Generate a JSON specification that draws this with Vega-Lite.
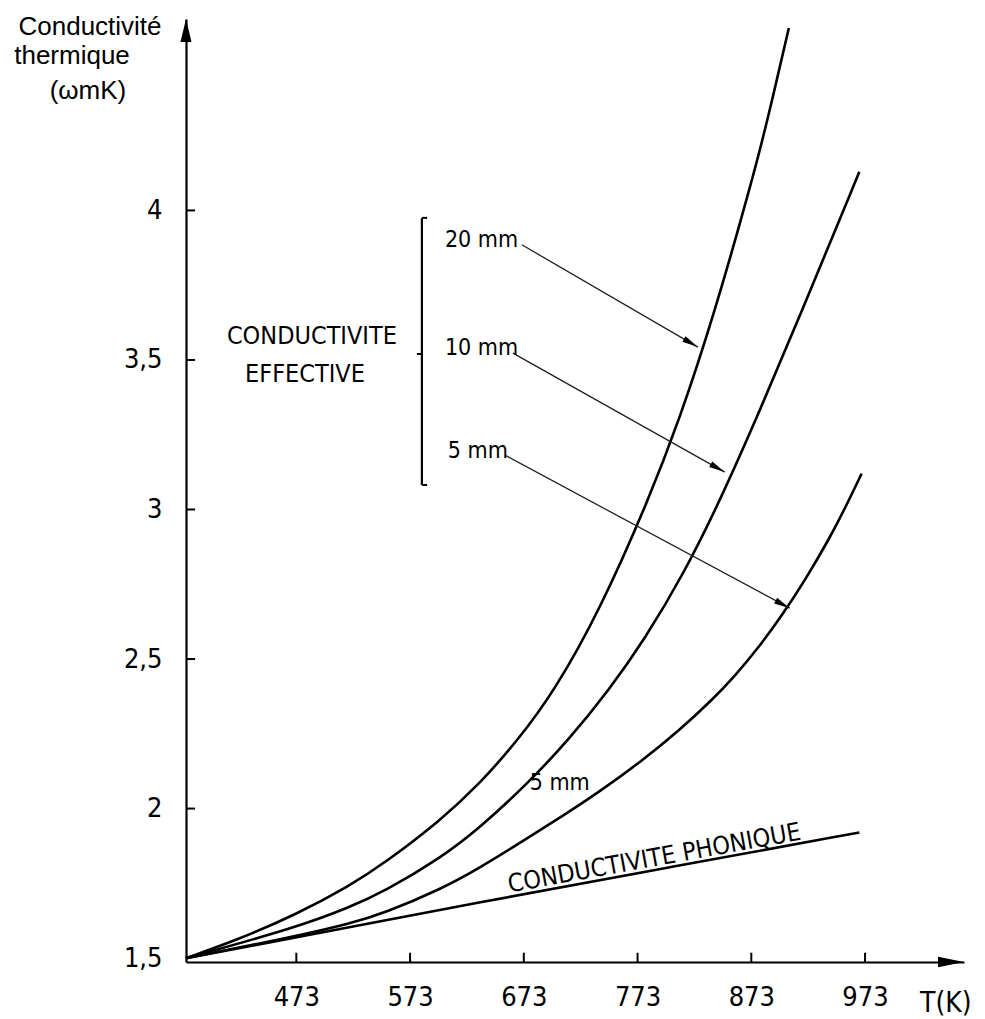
{
  "$schema": "https://vega.github.io/schema/vega-lite/v6.json",
  "width": 778,
  "height": 943,
  "autosize": {"type": "none"},
  "padding": {"left": 186, "top": 19, "right": 21, "bottom": 57},
  "background": "white",
  "data": {"values": [{}]},
  "config": {
    "view": {"stroke": null},
    "font": "Liberation Sans Narrow, DejaVu Sans Condensed, Liberation Sans, sans-serif",
    "text": {"color": "black", "font": "Liberation Sans Narrow, DejaVu Sans Condensed, Liberation Sans, sans-serif"}
  },
  "datasets": {
    "curves": [
      {"serie": "phonique", "T": 376, "k": 1.5},
      {"serie": "phonique", "T": 473, "k": 1.569},
      {"serie": "phonique", "T": 634, "k": 1.687},
      {"serie": "phonique", "T": 800, "k": 1.803},
      {"serie": "phonique", "T": 968, "k": 1.92},
      {"serie": "5 mm", "T": 376, "k": 1.5},
      {"serie": "5 mm", "T": 473, "k": 1.573},
      {"serie": "5 mm", "T": 520, "k": 1.615},
      {"serie": "5 mm", "T": 550, "k": 1.65},
      {"serie": "5 mm", "T": 600, "k": 1.73},
      {"serie": "5 mm", "T": 634, "k": 1.801},
      {"serie": "5 mm", "T": 670, "k": 1.886},
      {"serie": "5 mm", "T": 707, "k": 1.975},
      {"serie": "5 mm", "T": 740, "k": 2.058},
      {"serie": "5 mm", "T": 775, "k": 2.154},
      {"serie": "5 mm", "T": 810, "k": 2.262},
      {"serie": "5 mm", "T": 840, "k": 2.369},
      {"serie": "5 mm", "T": 858, "k": 2.441},
      {"serie": "5 mm", "T": 880, "k": 2.541},
      {"serie": "5 mm", "T": 900, "k": 2.646},
      {"serie": "5 mm", "T": 920, "k": 2.762},
      {"serie": "5 mm", "T": 942, "k": 2.905},
      {"serie": "5 mm", "T": 955, "k": 3.001},
      {"serie": "5 mm", "T": 970, "k": 3.12},
      {"serie": "10 mm", "T": 376, "k": 1.5},
      {"serie": "10 mm", "T": 473, "k": 1.602},
      {"serie": "10 mm", "T": 520, "k": 1.67},
      {"serie": "10 mm", "T": 550, "k": 1.722},
      {"serie": "10 mm", "T": 600, "k": 1.835},
      {"serie": "10 mm", "T": 634, "k": 1.935},
      {"serie": "10 mm", "T": 676, "k": 2.082},
      {"serie": "10 mm", "T": 713, "k": 2.232},
      {"serie": "10 mm", "T": 748, "k": 2.397},
      {"serie": "10 mm", "T": 779, "k": 2.564},
      {"serie": "10 mm", "T": 814, "k": 2.788},
      {"serie": "10 mm", "T": 845, "k": 3.025},
      {"serie": "10 mm", "T": 880, "k": 3.326},
      {"serie": "10 mm", "T": 915.5, "k": 3.646},
      {"serie": "10 mm", "T": 968, "k": 4.129},
      {"serie": "20 mm", "T": 376, "k": 1.5},
      {"serie": "20 mm", "T": 420, "k": 1.559},
      {"serie": "20 mm", "T": 473, "k": 1.646},
      {"serie": "20 mm", "T": 520, "k": 1.742},
      {"serie": "20 mm", "T": 550, "k": 1.816},
      {"serie": "20 mm", "T": 600, "k": 1.961},
      {"serie": "20 mm", "T": 634, "k": 2.082},
      {"serie": "20 mm", "T": 667, "k": 2.225},
      {"serie": "20 mm", "T": 700, "k": 2.393},
      {"serie": "20 mm", "T": 740, "k": 2.665},
      {"serie": "20 mm", "T": 782, "k": 3.026},
      {"serie": "20 mm", "T": 810, "k": 3.302},
      {"serie": "20 mm", "T": 840, "k": 3.648},
      {"serie": "20 mm", "T": 873, "k": 4.09},
      {"serie": "20 mm", "T": 887, "k": 4.297},
      {"serie": "20 mm", "T": 906, "k": 4.61}
    ],
    "xticks": [{"T": 473}, {"T": 573}, {"T": 673}, {"T": 773}, {"T": 873}, {"T": 973}],
    "yticks": [{"k": 2}, {"k": 2.5}, {"k": 3}, {"k": 3.5}, {"k": 4}]
  },
  "layer": [
    {
      "data": {"name": "curves"},
      "mark": {"type": "line", "color": "black", "strokeWidth": 2.6, "interpolate": "basis", "clip": false},
      "encoding": {
        "x": {
          "field": "T", "type": "quantitative",
          "scale": {"domain": [376, 1060], "nice": false, "zero": false},
          "axis": {
            "values": [473, 573, 673, 773, 873, 973],
            "title": null, "grid": false, "ticks": false,
            "domainColor": "black", "domainWidth": 2.2,
            "labelPadding": 22, "labelFontSize": 27, "labelColor": "black",
            "labelFont": "Liberation Sans Narrow, DejaVu Sans Condensed, Liberation Sans, sans-serif",
            "labelBaseline": "top"
          }
        },
        "y": {
          "field": "k", "type": "quantitative",
          "scale": {"domain": [1.487, 4.64], "nice": false, "zero": false},
          "axis": {
            "values": [1.5, 2, 2.5, 3, 3.5, 4],
            "labelExpr": "replace(format(datum.value, '~g'), '.', ',')",
            "title": null, "grid": false, "ticks": false,
            "domainColor": "black", "domainWidth": 2.2,
            "labelPadding": 24, "labelFontSize": 27, "labelColor": "black",
            "labelFont": "Liberation Sans Narrow, DejaVu Sans Condensed, Liberation Sans, sans-serif",
            "labelBaseline": "middle"
          }
        },
        "detail": {"field": "serie"}
      }
    },
    {
      "data": {"name": "xticks"},
      "mark": {"type": "rule", "color": "black", "strokeWidth": 2},
      "encoding": {"x": {"field": "T", "type": "quantitative"}, "y": {"datum": 1.487}, "y2": {"datum": 1.518}}
    },
    {
      "data": {"name": "yticks"},
      "mark": {"type": "rule", "color": "black", "strokeWidth": 2},
      "encoding": {"y": {"field": "k", "type": "quantitative"}, "x": {"datum": 376}, "x2": {"datum": 384}}
    },
    {
      "mark": {"type": "point", "shape": "M0,0 L0.24,1 L-0.24,1 Z", "filled": true, "color": "black", "size": 2116, "opacity": 1},
      "encoding": {"x": {"datum": 376}, "y": {"datum": 4.64}}
    },
    {
      "mark": {"type": "point", "shape": "M0,0 L-1,0.2 L-1,-0.2 Z", "filled": true, "color": "black", "size": 2704, "opacity": 1},
      "encoding": {"x": {"datum": 1060}, "y": {"datum": 1.487}}
    },
    {
      "mark": {"type": "rule", "color": "black", "strokeWidth": 2.2},
      "encoding": {"x": {"datum": 583.4}, "y": {"datum": 3.975}, "y2": {"datum": 3.082}}
    },
    {
      "mark": {"type": "rule", "color": "black", "strokeWidth": 2},
      "encoding": {"x": {"datum": 583.4}, "x2": {"datum": 588}, "y": {"datum": 3.975}}
    },
    {
      "mark": {"type": "rule", "color": "black", "strokeWidth": 2},
      "encoding": {"x": {"datum": 583.4}, "x2": {"datum": 588}, "y": {"datum": 3.082}}
    },
    {
      "mark": {"type": "rule", "color": "black", "strokeWidth": 2},
      "encoding": {"x": {"datum": 579}, "x2": {"datum": 583.4}, "y": {"datum": 3.52}}
    },
    {
      "mark": {"type": "rule", "color": "#222", "strokeWidth": 1.3},
      "encoding": {"x": {"datum": 671.3}, "y": {"datum": 3.885}, "x2": {"datum": 826}, "y2": {"datum": 3.543}}
    },
    {
      "mark": {"type": "rule", "color": "#222", "strokeWidth": 1.3},
      "encoding": {"x": {"datum": 663.4}, "y": {"datum": 3.523}, "x2": {"datum": 849.6}, "y2": {"datum": 3.125}}
    },
    {
      "mark": {"type": "rule", "color": "#222", "strokeWidth": 1.3},
      "encoding": {"x": {"datum": 656.3}, "y": {"datum": 3.182}, "x2": {"datum": 906.8}, "y2": {"datum": 2.67}}
    },
    {
      "mark": {"type": "point", "shape": "M0,0 L-1,-0.2 L-1,0.2 Z", "filled": true, "color": "black", "size": 1024, "angle": 30, "opacity": 1},
      "encoding": {"x": {"datum": 826}, "y": {"datum": 3.543}}
    },
    {
      "mark": {"type": "point", "shape": "M0,0 L-1,-0.2 L-1,0.2 Z", "filled": true, "color": "black", "size": 1024, "angle": 29.3, "opacity": 1},
      "encoding": {"x": {"datum": 849.6}, "y": {"datum": 3.125}}
    },
    {
      "mark": {"type": "point", "shape": "M0,0 L-1,-0.2 L-1,0.2 Z", "filled": true, "color": "black", "size": 1024, "angle": 28.3, "opacity": 1},
      "encoding": {"x": {"datum": 906.8}, "y": {"datum": 2.67}}
    },
    {
      "mark": {"type": "text", "text": "20 mm", "align": "left", "baseline": "alphabetic", "fontSize": 23},
      "encoding": {"x": {"datum": 603.6}, "y": {"datum": 3.878}}
    },
    {
      "mark": {"type": "text", "text": "10 mm", "align": "left", "baseline": "alphabetic", "fontSize": 23},
      "encoding": {"x": {"datum": 603.6}, "y": {"datum": 3.517}}
    },
    {
      "mark": {"type": "text", "text": "5 mm", "align": "left", "baseline": "alphabetic", "fontSize": 23},
      "encoding": {"x": {"datum": 606.2}, "y": {"datum": 3.172}}
    },
    {
      "mark": {"type": "text", "text": "5 mm", "align": "center", "baseline": "alphabetic", "fontSize": 23},
      "encoding": {"x": {"datum": 704.6}, "y": {"datum": 2.062}}
    },
    {
      "mark": {"type": "text", "text": "CONDUCTIVITE", "align": "center", "baseline": "alphabetic", "fontSize": 25},
      "encoding": {"x": {"datum": 486.7}, "y": {"datum": 3.553}}
    },
    {
      "mark": {"type": "text", "text": "EFFECTIVE", "align": "center", "baseline": "alphabetic", "fontSize": 25},
      "encoding": {"x": {"datum": 480.6}, "y": {"datum": 3.426}}
    },
    {
      "mark": {"type": "text", "text": "CONDUCTIVITE  PHONIQUE", "align": "center", "baseline": "alphabetic", "fontSize": 25, "angle": -10.3},
      "encoding": {"x": {"datum": 789}, "y": {"datum": 1.808}}
    },
    {
      "mark": {"type": "text", "text": "Conductivité", "align": "center", "baseline": "alphabetic", "fontSize": 26, "font": "Liberation Sans, sans-serif"},
      "encoding": {"x": {"datum": 291.6}, "y": {"datum": 4.587}}
    },
    {
      "mark": {"type": "text", "text": "thermique", "align": "center", "baseline": "alphabetic", "fontSize": 26, "font": "Liberation Sans, sans-serif"},
      "encoding": {"x": {"datum": 275.8}, "y": {"datum": 4.49}}
    },
    {
      "mark": {"type": "text", "text": "(ωmK)", "align": "center", "baseline": "alphabetic", "fontSize": 26, "font": "Liberation Sans, sans-serif"},
      "encoding": {"x": {"datum": 289.8}, "y": {"datum": 4.373}}
    },
    {
      "mark": {"type": "text", "text": "T(K)", "align": "center", "baseline": "alphabetic", "fontSize": 28},
      "encoding": {"x": {"datum": 1044}, "y": {"datum": 1.319}}
    }
  ]
}
